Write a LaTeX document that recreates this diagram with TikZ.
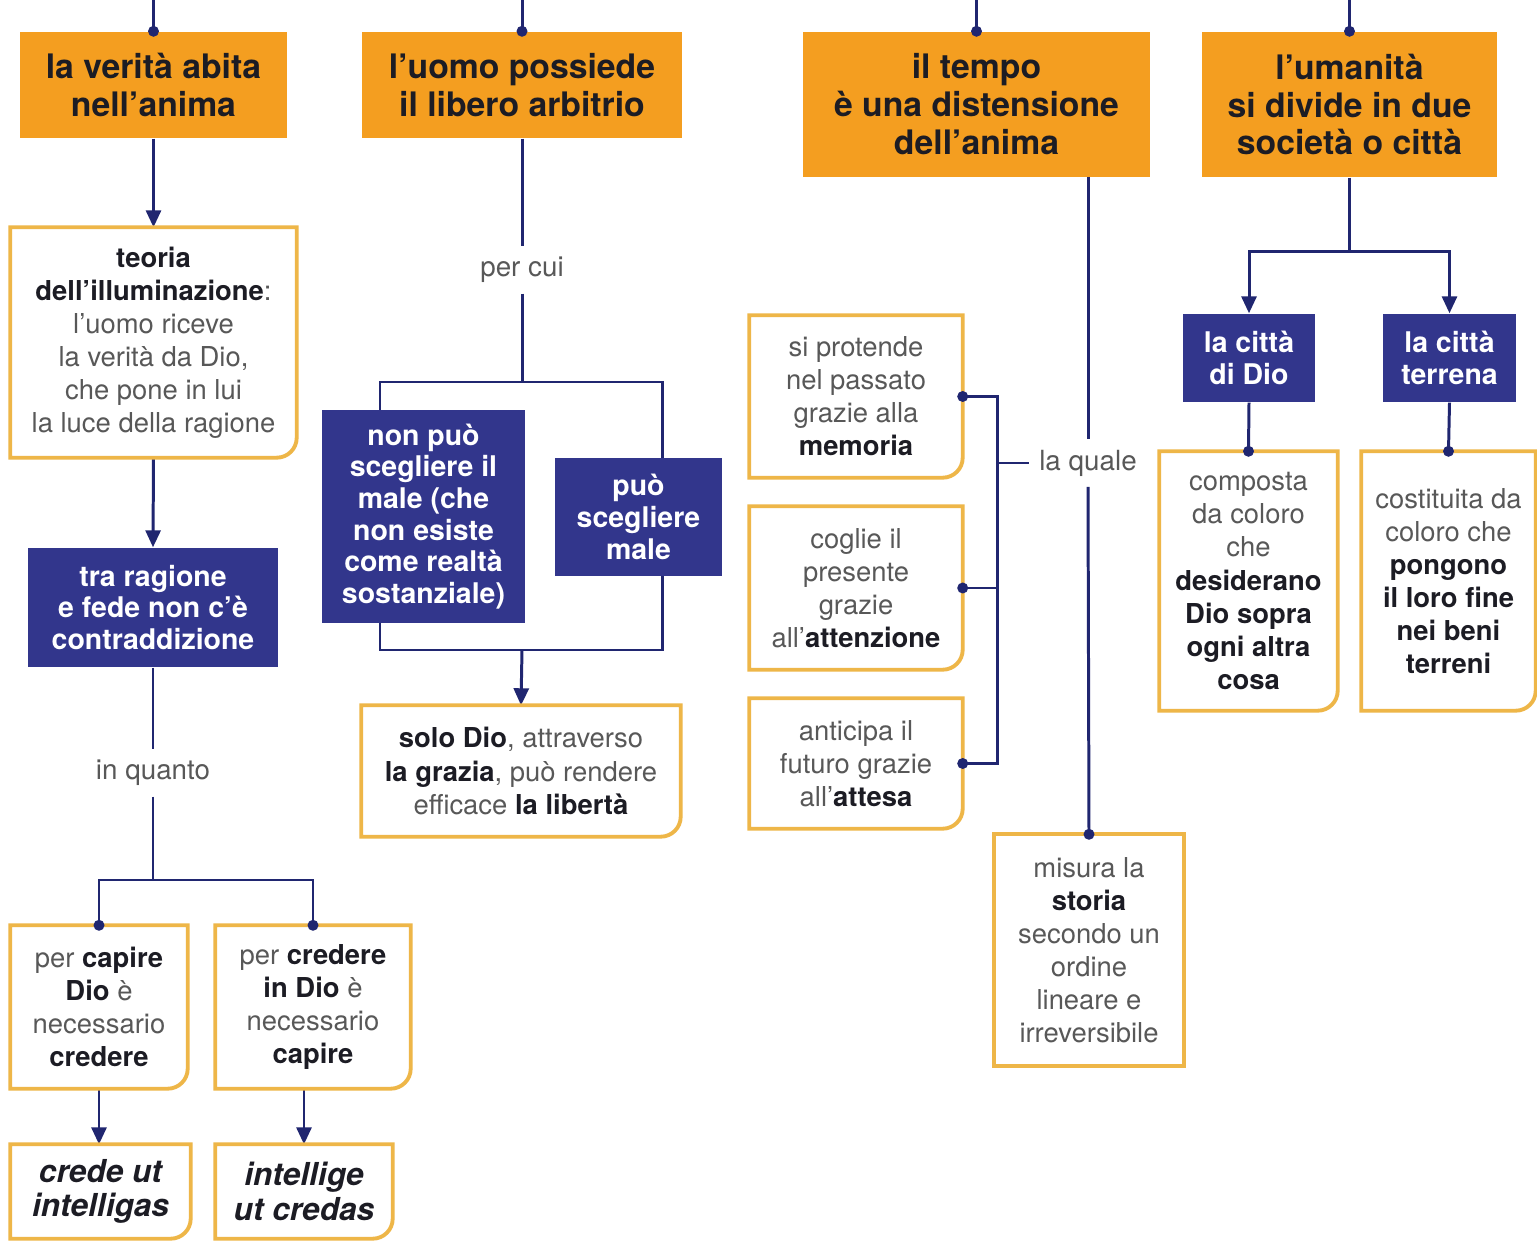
\documentclass[tikz,border=0pt]{standalone}
\usepackage{fontspec}
\setmainfont{TeX Gyre Heros}
\usetikzlibrary{positioning,arrows.meta,calc}

\definecolor{boxorange}{RGB}{244,158,32}
\definecolor{edgeorange}{RGB}{238,182,72}
\definecolor{boxblue}{RGB}{50,54,140}
\definecolor{linkblue}{RGB}{32,38,112}
\definecolor{textgray}{RGB}{88,88,88}
\definecolor{textdark}{RGB}{28,28,36}

\newcommand{\kw}[1]{{\bfseries\color{textdark}#1}}

\tikzset{
  topbox/.style={fill=boxorange, text=textdark, inner sep=0pt, align=center,
    font=\fontsize{9.6}{10.8}\selectfont\bfseries},
  bluebox/.style={fill=boxblue, text=white, inner sep=0pt, align=center,
    font=\fontsize{8.1}{9}\selectfont\bfseries},
  notebox/.style={inner sep=0pt, align=center, text=textgray,
    font=\fontsize{7.8}{9.4}\selectfont},
  mottobox/.style={notebox, text=textdark, font=\fontsize{9}{9.8}\selectfont\bfseries\itshape},
  linklabel/.style={inner sep=1mm, text=textgray, font=\fontsize{7.9}{9.4}\selectfont},
  link/.style={draw=linkblue, line width=0.85pt},
  arr/.style={link, -{Triangle[length=1.7mm,width=1.5mm]}},
  noteedge/.style={draw=edgeorange, line width=1.1pt},
}

\begin{document}
\begin{tikzpicture}[x=0.1mm, y=-0.1mm]
    \fill[white] (0,0) rectangle (1537,1241);
    \useasboundingbox (0,0) rectangle (1537,1241);

    % main themes
    \node [topbox, minimum width=26.7mm, minimum height=10.6mm] (o1) at (153.5,85) {la verità abita\\nell’anima};
    \node [topbox, minimum width=32mm, minimum height=10.6mm] (o2) at (522,85) {l’uomo possiede\\il libero arbitrio};
    \node [topbox, minimum width=34.7mm, minimum height=14.5mm] (o3) at (976.5,104.5) {il tempo\\è una distensione\\dell’anima};
    \node [topbox, minimum width=29.5mm, minimum height=14.5mm] (o4) at (1349.5,104.5) {l’umanità\\si divide in due\\società o città};

    \coordinate (top1) at (153.5,0);
    \coordinate (top2) at (522,0);
    \coordinate (top3) at (976.5,0);
    \coordinate (top4) at (1349.5,0);
    \foreach \i in {1,2,3,4} \draw [link] (top\i) -- (o\i.north);

    % verita
    \node [notebox, minimum width=28.5mm, minimum height=22.9mm] (w1) at (153.5,342.5)
        {\kw{teoria}\\\kw{dell’illuminazione}:\\l’uomo riceve\\la verità da Dio,\\che pone in lui\\la luce della ragione};
    \node [bluebox, minimum width=25mm, minimum height=11.9mm] (b1) at (153,607.5)
        {tra ragione\\e fede non c’è\\contraddizione};
    \node [linklabel] (iq) at (153,773) {in quanto};
    \node [notebox, minimum width=17.6mm, minimum height=16.2mm] (w2) at (99,1007)
        {per \kw{capire}\\\kw{Dio} è\\necessario\\\kw{credere}};
    \node [notebox, minimum width=19.4mm, minimum height=16.2mm] (w3) at (313,1007)
        {per \kw{credere}\\\kw{in Dio} è\\necessario\\\kw{capire}};
    \node [mottobox, minimum width=17.9mm, minimum height=9.3mm] (w4) at (100.5,1191.5) {crede ut\\intelligas};
    \node [mottobox, minimum width=17.6mm, minimum height=9.3mm] (w5) at (304,1191.5) {intellige\\ut credas};

    \coordinate (jc1) at (153,880);
    \draw [arr] (o1.south) -- (w1.north);
    \draw [arr] (w1.south) -- (b1.north);
    \draw [link] (b1.south) -- (iq.north);
    \draw [link] (iq.south) -- (jc1);
    \draw [link] (w2.north) |- (jc1) -| (w3.north);
    \draw [arr] (w2.south) -- (w2.south |- w4.north);
    \draw [arr] (w3.south -| w5.north) -- (w5.north);

    % libero arbitrio
    \node [linklabel] (pc) at (522,270) {per cui};
    \node [bluebox, minimum width=20.3mm, minimum height=21.3mm] (b2) at (423.5,516.5)
        {non può\\scegliere il\\male (che\\non esiste\\come realtà\\sostanziale)};
    \node [bluebox, minimum width=16.7mm, minimum height=11.8mm] (b3) at (638.5,517)
        {può\\scegliere\\male};
    \node [notebox, minimum width=31.8mm, minimum height=13mm] (w6) at (521,771)
        {\kw{solo Dio}, attraverso\\\kw{la grazia}, può rendere\\efficace \kw{la libertà}};

    \coordinate (jt2) at (522,382);
    \coordinate (jb2) at (522,650);
    \coordinate (b2in) at (380,410);
    \coordinate (b2out) at (380,623);
    \coordinate (b3in) at (662,458);
    \coordinate (b3out) at (662,576);
    \draw [link] (o2.south) -- (pc.north);
    \draw [link] (pc.south) -- (jt2);
    \draw [link] (b2in) |- (jt2) -| (b3in);
    \draw [link] (b2out) |- (jb2) -| (b3out);
    \draw [arr] (jb2) -- (w6.north);

    % tempo
    \node [notebox, minimum width=21.2mm, minimum height=16.1mm] (w7) at (856,396.5)
        {si protende\\nel passato\\grazie alla\\\kw{memoria}};
    \node [notebox, minimum width=21.2mm, minimum height=16.2mm] (w8) at (856,588)
        {coglie il\\presente\\grazie\\all’\kw{attenzione}};
    \node [notebox, minimum width=21.2mm, minimum height=12.9mm] (w9) at (856,763.5)
        {anticipa il\\futuro grazie\\all’\kw{attesa}};
    \node [linklabel] (lq) at (1088,463) {la quale};
    \node [notebox, minimum width=18.8mm, minimum height=23mm] (w10) at (1089,950)
        {misura la\\\kw{storia}\\secondo un\\ordine\\lineare e\\irreversibile};

    \coordinate (o3out) at (1088,177);
    \coordinate (brk) at (997,463);
    \draw [link] (o3out) -- (lq.north);
    \draw [link] (lq.south) -- (w10.north);
    \draw [link] (w7.east) -| (brk) |- (w9.east);
    \draw [link] (w8.east) -- (w8.east -| brk);
    \draw [link] (brk) -- (lq.west);

    % umanita
    \node [bluebox, minimum width=13.2mm, minimum height=8.8mm] (b4) at (1249,358) {la città\\di Dio};
    \node [bluebox, minimum width=13.3mm, minimum height=8.8mm] (b5) at (1449.5,358) {la città\\terrena};
    \node [notebox, minimum width=17.7mm, minimum height=25.8mm] (w11) at (1248.5,581)
        {composta\\da coloro\\che\\\kw{desiderano}\\\kw{Dio sopra}\\\kw{ogni altra}\\\kw{cosa}};
    \node [notebox, minimum width=17.3mm, minimum height=25.8mm] (w12) at (1448.5,581)
        {costituita da\\coloro che\\\kw{pongono}\\\kw{il loro fine}\\\kw{nei beni}\\\kw{terreni}};

    \coordinate (jc4) at (1349.5,252);
    \draw [link] (o4.south) -- (jc4);
    \draw [arr] (jc4) -| (b4.north);
    \draw [arr] (jc4) -| (b5.north);
    \draw [link] (b4.south) -- (w11.north);
    \draw [link] (b5.south) -- (w12.north);

    % frames of the notes
    \foreach \n in {w1,w2,w3,w4,w5,w6,w7,w8,w9,w11,w12}
        \draw [noteedge] (\n.north west) -- (\n.north east) -- ([yshift=2mm]\n.south east)
            arc [start angle=0, end angle=-90, radius=2mm] -- (\n.south west) -- cycle;
    \draw [noteedge] (w10.north west) rectangle (w10.south east);

    % dots on top
    \foreach \p in {o1.north,o2.north,o3.north,o4.north,w2.north,w3.north,w10.north,
                    w11.north,w12.north,w7.east,w8.east,w9.east}
        \fill [linkblue] (\p) circle (0.55mm);
\end{tikzpicture}
\end{document}
